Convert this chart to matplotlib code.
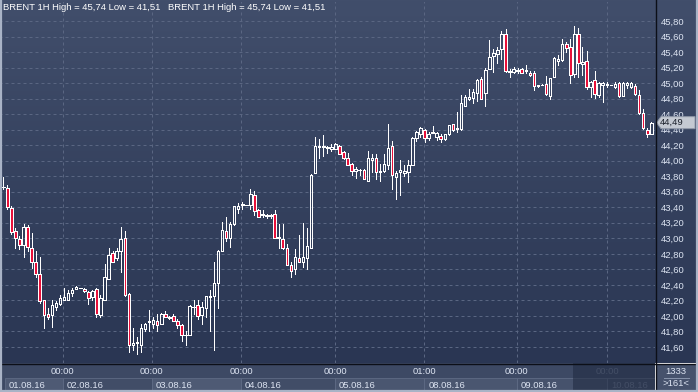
import numpy as np
import matplotlib
matplotlib.use("Agg")
import matplotlib.pyplot as plt
from matplotlib.patches import Rectangle, Polygon
from matplotlib.colors import LinearSegmentedColormap

# ---------------- data (BRENT 1H candles) ----------------
opens = [43.66, 43.65, 43.39, 43.09, 42.99, 42.91, 43.15, 42.88, 42.70, 42.54,
         42.20, 42.03, 42.01, 42.12, 42.15, 42.20, 42.21, 42.30, 42.35, 42.36,
         42.35, 42.31, 42.24, 42.35, 42.01, 42.20, 42.47, 42.81, 42.74, 42.83,
         43.01, 42.28, 41.62,
         41.65, 41.63, 41.83, 41.92, 41.90, 41.94, 41.90, 42.03, 41.97, 42.00,
         41.93, 41.88, 41.75, 41.76, 42.12, 42.14, 42.01, 42.10, 42.24, 42.25,
         42.43, 42.83, 43.09, 43.00, 43.18, 43.38, 43.43, 43.43, 43.43, 43.56,
         43.37, 43.30,
         43.29, 43.29, 43.31, 43.00, 42.99, 42.88, 42.65, 42.60, 42.75, 42.70,
         42.75, 42.88, 43.84, 44.18, 44.18, 44.17, 44.15, 44.15, 44.19, 44.11,
         44.03, 43.96, 43.87, 43.88, 43.88, 43.74, 44.01, 44.04, 43.86, 43.87,
         43.94, 44.19,
         43.79, 43.86, 43.84, 43.86, 43.95, 44.29, 44.35, 44.39, 44.29, 44.36,
         44.30, 44.32, 44.28, 44.34, 44.47, 44.41, 44.41, 44.71, 44.80, 44.81,
         44.87, 45.05, 44.87, 45.18, 45.35, 45.37, 45.44, 45.63, 45.14, 45.14,
         45.16, 45.18,
         45.16, 45.13, 45.13, 44.96, 44.97, 44.99, 44.83, 45.08, 45.28, 45.30,
         45.50, 45.46, 45.12, 45.63, 45.25, 45.29, 44.95, 45.04, 44.85, 44.97,
         44.98, 44.98, 44.95, 45.00, 44.83, 44.98, 44.95, 44.96, 44.85, 44.61,
         44.40, 44.34]
highs = [43.79, 43.69, 43.42, 43.13, 43.03, 43.18, 43.17, 43.07, 42.83, 42.76,
         42.21, 42.10, 42.20, 42.19, 42.27, 42.36, 42.34, 42.36, 42.38, 42.36,
         42.36, 42.32, 42.34, 42.36, 42.27, 42.67, 42.87, 42.83, 42.88, 43.14,
         43.09, 42.29, 41.84,
         41.73, 41.89, 41.91, 42.07, 41.99, 42.02, 42.04, 42.06, 42.00, 42.02,
         41.96, 41.90, 41.80, 42.14, 42.20, 42.20, 42.18, 42.26, 42.33, 42.69,
         42.85, 43.21, 43.27, 43.21, 43.42, 43.45, 43.47, 43.43, 43.64, 43.61,
         43.38, 43.37,
         43.31, 43.31, 43.37, 43.19, 43.19, 42.93, 42.70, 42.86, 43.04, 43.20,
         43.13, 43.83, 44.30, 44.28, 44.33, 44.19, 44.21, 44.23, 44.20, 44.12,
         44.10, 43.97, 43.92, 43.89, 43.89, 44.13, 44.09, 44.08, 43.96, 44.09,
         44.47, 44.25,
         43.87, 44.01, 43.94, 44.01, 44.31, 44.38, 44.43, 44.41, 44.37, 44.45,
         44.37, 44.34, 44.35, 44.46, 44.47, 44.63, 44.85, 44.85, 44.92, 44.92,
         45.05, 45.08, 45.20, 45.56, 45.44, 45.46, 45.67, 45.70, 45.18, 45.21,
         45.19, 45.20,
         45.23, 45.15, 45.16, 44.98, 44.99, 45.09, 45.07, 45.33, 45.36, 45.57,
         45.53, 45.57, 45.74, 45.71, 45.46, 45.41, 45.03, 45.15, 45.02, 45.02,
         45.01, 44.98, 45.01, 45.02, 45.01, 45.01, 45.02, 44.99, 44.91, 44.67,
         44.42, 44.50]
lows = [43.64, 43.38, 43.05, 42.87, 42.86, 42.76, 42.83, 42.62, 42.50, 42.16,
        41.85, 41.96, 41.86, 42.08, 42.14, 42.20, 42.20, 42.26, 42.35, 42.36,
        42.31, 42.15, 42.21, 41.98, 41.99, 42.20, 42.47, 42.70, 42.72, 42.57,
        42.25, 41.53, 41.56,
        41.51, 41.54, 41.80, 41.80, 41.84, 41.81, 41.90, 41.98, 41.96, 41.93,
        41.84, 41.68, 41.62, 41.76, 42.03, 41.96, 41.90, 41.98, 41.80, 41.56,
        42.10, 42.83, 42.96, 42.89, 43.17, 43.33, 43.38, 43.43, 43.38, 43.30,
        43.28, 43.28,
        43.26, 43.26, 43.00, 42.87, 42.86, 42.65, 42.50, 42.54, 42.70, 42.63,
        42.61, 42.87, 43.84, 44.03, 44.06, 44.10, 44.13, 44.15, 44.09, 44.02,
        43.94, 43.82, 43.78, 43.81, 43.76, 43.74, 43.85, 43.77, 43.74, 43.86,
        43.89, 43.63,
        43.51, 43.56, 43.80, 43.72, 43.95, 44.25, 44.31, 44.24, 44.27, 44.36,
        44.27, 44.24, 44.27, 44.33, 44.38, 44.37, 44.39, 44.70, 44.78, 44.74,
        44.77, 44.79, 44.70, 45.18, 45.14, 45.26, 45.31, 45.14, 45.08, 45.13,
        45.13, 45.13,
        45.13, 45.09, 44.91, 44.95, 44.97, 44.85, 44.80, 45.08, 45.23, 45.29,
        45.40, 45.00, 45.08, 45.08, 45.10, 44.92, 44.82, 44.81, 44.82, 44.75,
        44.95, 44.98, 44.94, 44.82, 44.83, 44.94, 44.94, 44.85, 44.60, 44.41,
        44.30, 44.34]
closes = [43.66, 43.40, 43.08, 43.01, 42.92, 43.15, 42.89, 42.70, 42.54, 42.19,
          42.01, 41.99, 42.14, 42.16, 42.23, 42.24, 42.30, 42.33, 42.37, 42.36,
          42.32, 42.23, 42.32, 42.02, 42.23, 42.50, 42.79, 42.70, 42.84, 42.99,
          42.27, 41.63, 41.65,
          41.66, 41.84, 41.89, 41.93, 41.95, 41.88, 42.03, 41.98, 41.99, 41.93,
          41.88, 41.76, 41.76, 42.13, 42.12, 42.00, 42.11, 42.25, 42.25, 42.43,
          42.84, 43.11, 43.00, 43.19, 43.41, 43.41, 43.44, 43.43, 43.57, 43.35,
          43.28, 43.31,
          43.30, 43.30, 43.00, 43.02, 42.87, 42.65, 42.58, 42.76, 42.70, 42.76,
          42.90, 43.82, 44.19, 44.19, 44.19, 44.18, 44.18, 44.21, 44.09, 44.04,
          43.94, 43.87, 43.89, 43.88, 43.77, 44.04, 44.03, 43.86, 43.87, 43.96,
          44.17, 43.82,
          43.84, 43.88, 43.87, 43.94, 44.29, 44.37, 44.42, 44.29, 44.35, 44.37,
          44.36, 44.28, 44.34, 44.46, 44.40, 44.42, 44.74, 44.82, 44.82, 44.88,
          45.04, 44.80, 45.17, 45.33, 45.39, 45.43, 45.63, 45.16, 45.15, 45.18,
          45.17, 45.13,
          45.17, 45.10, 44.96, 44.98, 44.98, 44.86, 45.06, 45.32, 45.31, 45.51,
          45.45, 45.11, 45.63, 45.26, 45.27, 44.95, 45.02, 44.86, 45.00, 45.00,
          44.99, 44.98, 44.99, 44.83, 45.00, 45.00, 45.00, 44.86, 44.62, 44.42,
          44.34, 44.49]

price_ticks = [41.6, 41.8, 42.0, 42.2, 42.4, 42.6, 42.8, 43.0, 43.2, 43.4, 43.6,
               43.8, 44.0, 44.2, 44.4, 44.6, 44.8, 45.0, 45.2, 45.4, 45.6, 45.8]
# session breaks (in bar-index units) and their labels
session_breaks = [14.7, 36.7, 58.7, 81.9, 103.9, 126.8, 149.1]
session_times = ["00:00", "00:00", "00:00", "00:00", "01:00", "00:00", "00:00"]
day_labels = ["01.08.16", "02.08.16", "03.08.16", "04.08.16", "05.08.16",
              "08.08.16", "09.08.16", "10.08.16"]
symbol = "BRENT 1H"
total_count = 1333

# ---------------- styling ----------------
W, H = 698, 392
FONT = "Liberation Sans"
BG_TOP = "#414e6b"
BG_BOT = "#2a3653"
RED = "#e8103a"
GRID = "#5a6682"
LABEL = "#dde4f2"
PX = 72 / 100  # one pixel in points

fig = plt.figure(figsize=(W / 100, H / 100), dpi=100)

# background gradient (pixel coordinates)
bg = fig.add_axes([0, 0, 1, 1], zorder=0)
bg.set_xlim(0, W)
bg.set_ylim(H, 0)
bg.axis("off")
cmap = LinearSegmentedColormap.from_list("bg", [BG_TOP, BG_BOT])
grad = np.linspace(0, 1, 256).reshape(-1, 1)
bg.imshow(grad, cmap=cmap, aspect="auto", extent=[0, W, 363, 0], zorder=0)

# main candle axes
ax = fig.add_axes([2 / W, 29 / H, 653 / W, 361 / H], zorder=2)
ax.patch.set_alpha(0)
xi = np.arange(len(closes))
ax.set_xlim(-0.32, 160.91)
ax.set_ylim(41.393, 46.045)
for s in ax.spines.values():
    s.set_visible(False)

# grid
ax.hlines(price_ticks, -1, 170, colors=GRID, linewidth=PX,
          linestyles=(0, (3, 3)), zorder=1)
ax.vlines(session_breaks, 40, 47, colors=GRID, linewidth=PX,
          linestyles=(0, (3, 3)), zorder=1)

o = np.array(opens); h = np.array(highs); l = np.array(lows); c = np.array(closes)
top = np.maximum(o, c); bot = np.minimum(o, c)
ax.vlines(xi, top, h, colors="white", linewidth=PX, zorder=3, antialiased=False)
ax.vlines(xi, l, bot, colors="white", linewidth=PX, zorder=3, antialiased=False)
up = c >= o
ax.bar(xi[up], (c - o)[up], bottom=o[up], width=0.62, facecolor="none",
       edgecolor="white", linewidth=PX, zorder=4, antialiased=False)
ax.bar(xi[~up], (o - c)[~up], bottom=c[~up], width=0.62, facecolor=RED,
       edgecolor="white", linewidth=PX, zorder=4, antialiased=False)

# right price axis
ax.yaxis.tick_right()
ax.set_yticks(price_ticks)
ax.set_yticklabels([f"{v:.2f}".replace(".", ",") for v in price_ticks],
                   fontsize=6.8, color=LABEL, family=FONT)
ax.tick_params(axis="y", length=0, pad=4)
ax.set_xticks([])

# header
hdr = f"{symbol} High = {max(highs):.2f} Low = {min(lows):.2f}".replace(".", ",")
fig.text(3 / W, 1 - 8 / H, hdr, fontsize=6.8, color="white", family=FONT,
         va="center", ha="left")
fig.text(168 / W, 1 - 8 / H, hdr, fontsize=6.8, color="white", family=FONT,
         va="center", ha="left")

# bottom time axis
axb = fig.add_axes([2 / W, 0, 653 / W, 29 / H], zorder=1)
axb.set_xlim(ax.get_xlim())
axb.set_ylim(392, 363)
axb.axis("off")
axb.add_patch(Rectangle((-5, 363), 200, 29, facecolor="#3d4964", edgecolor="none"))
edges = [0.4] + session_breaks
shade = ["#4e5a74", "#414d67", "#4e5a74", "#414d67", "#4a5670", "#4a5670",
         "#46526c", "#414d67"]
for k, lab in enumerate(day_labels):
    x0 = edges[k]
    x1 = edges[k + 1] if k + 1 < len(edges) else 161
    axb.add_patch(Rectangle((x0, 378), x1 - x0, 13, facecolor=shade[k],
                            edgecolor="#5f6b85", linewidth=0.6))
    col = LABEL if k < len(day_labels) - 1 else "#6f7b93"
    axb.text(x0 + 1.0, 385, lab, fontsize=6.8, color=col, family=FONT,
             va="center", ha="left")
for k, (xb, tl) in enumerate(zip(session_breaks, session_times)):
    col = LABEL if k < len(session_times) - 1 else "#6f7b93"
    axb.text(xb, 371, tl, fontsize=6.8, color=col, family=FONT,
             va="center", ha="center")
axb.add_patch(Rectangle((140.7, 363), 30, 29, facecolor="#1f2940", alpha=0.55,
                        edgecolor="none", zorder=5))

# overlay (pixel coords): separators, frame, counter box, price tag
ov = fig.add_axes([0, 0, 1, 1], zorder=10)
ov.set_xlim(0, W)
ov.set_ylim(H, 0)
ov.axis("off")
ov.patch.set_alpha(0)
ov.add_patch(Rectangle((656, 364), 40, 27, facecolor="#46526c", edgecolor="none"))
ov.text(676, 371, str(total_count), fontsize=6.8, color=LABEL, family=FONT,
        ha="center", va="center")
ov.text(676, 384, f">{len(closes)}<", fontsize=6.8, color=LABEL, family=FONT,
        ha="center", va="center")
ov.plot([664, 689], [377.5, 377.5], color="#8a96ad", lw=0.7)
ov.plot([655.5, 655.5], [0, H], color="#0c0f18", lw=1.0)
ov.plot([0, W], [363.5, 363.5], color="#0c0f18", lw=1.0)
ov.plot([0.8, 0.8], [0, H], color="#a9b3c6", lw=1.6)
ov.plot([697.2, 697.2], [0, H], color="#a9b3c6", lw=1.6)
ov.plot([0, W], [391.2, 391.2], color="#a9b3c6", lw=1.6)

# last price tag
ydisp = ax.transData.transform((0, closes[-1]))[1]
yp = H - ydisp
tag = Polygon([(656.5, yp), (661, yp - 6), (695, yp - 6), (695, yp + 6), (661, yp + 6)],
              closed=True, facecolor="#c4c9d2", edgecolor="#8f98a8", lw=0.7)
ov.add_patch(tag)
ov.text(660, yp, f"{closes[-1]:.2f}".replace(".", ","), fontsize=6.8,
        color="#1a1f2a", family=FONT, ha="left", va="center")

fig.savefig("out.png", dpi=100)
